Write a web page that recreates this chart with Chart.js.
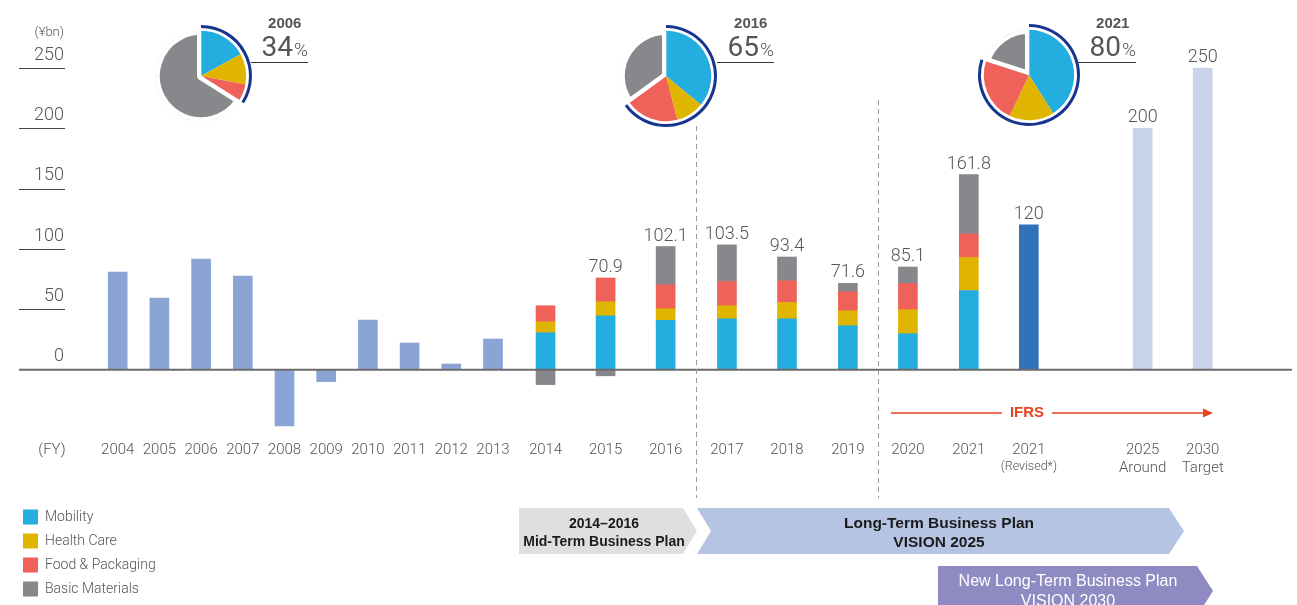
<!DOCTYPE html>
<html>
<head>
<meta charset="utf-8">
<script src="https://cdn.jsdelivr.net/npm/chart.js@4.4.1/dist/chart.umd.min.js"></script>
<style>
  body { margin: 0; background: #fff; }
  #wrap { position: relative; width: 1297px; height: 605px; overflow: hidden; }
  #wrap canvas { position: absolute; }
</style>
</head>
<body>
<div id="wrap">
  <canvas id="main" width="1297" height="605" style="left:0;top:0"></canvas>
  <canvas id="pie0" width="120" height="120"></canvas>
  <canvas id="pie1" width="120" height="120"></canvas>
  <canvas id="pie2" width="120" height="120"></canvas>
</div>
<script>
// --- data (¥bn) ---
const years = ['2004','2005','2006','2007','2008','2009','2010','2011','2012','2013',
  '2014','2015','2016','2017','2018','2019','2020','2021','2021','2025','2030'];
const subLabels = ['','','','','','','','','','','','','','','','','','','(Revised*)','Around','Target'];

const companyTotal = [80.9, 59.3, 91.6, 77.6, -46.6, -9.9, 41.1, 22.1, 4.7, 25.4,
  null, null, null, null, null, null, null, null, null, null, null];
const mobility = [null, null, null, null, null, null, null, null, null, null,
  30.6, 44.7, 40.8, 42.2, 42.2, 36.4, 29.8, 65.6, null, null, null];
const healthCare = [null, null, null, null, null, null, null, null, null, null,
  9.1, 11.6, 9.7, 10.8, 13.5, 12.4, 19.9, 27.4, null, null, null];
const foodPackaging = [null, null, null, null, null, null, null, null, null, null,
  13.3, 19.7, 19.9, 20.1, 18.0, 15.8, 21.8, 19.6, null, null, null];
const basicMaterials = [null, null, null, null, null, null, null, null, null, null,
  -12.4, -5.1, 31.7, 30.4, 19.7, 7.0, 13.6, 49.2, null, null, null];
const revised = [null, null, null, null, null, null, null, null, null, null,
  null, null, null, null, null, null, null, null, 120, null, null];
const targets = [null, null, null, null, null, null, null, null, null, null,
  null, null, null, null, null, null, null, null, null, 200, 250];
const totalLabels = [null, null, null, null, null, null, null, null, null, null,
  null, '70.9', '102.1', '103.5', '93.4', '71.6', '85.1', '161.8', '120', '200', '250'];
const yTicks = [0, 50, 100, 150, 200, 250];

// pie charts: share of the four businesses (Mobility, Health Care, Food & Packaging, Basic Materials)
const pieYears = ['2006', '2016', '2021'];
const pieShare = [34, 65, 80];
const pie2006 = [17, 11, 6, 66];
const pie2016 = [36, 10, 19, 35];
const pie2021 = [41, 16, 23, 20];

// --- layout / style ---
const xSlot = [0, 1, 2, 3, 4, 5, 6, 7, 8, 9, 10.26, 11.70, 13.14, 14.61, 16.05, 17.51, 18.95, 20.41, 21.85, 24.58, 26.02];
const pieCenters = [[201, 76], [666, 76], [1029, 75]];
const FONT = "Roboto, 'Liberation Sans', sans-serif";
const BOLD = "'Liberation Sans', Arial, sans-serif";
const TXT = '#555';
const NAVY = '#17358f';
const C_MOB = '#24aee0', C_HC = '#e0b500', C_FOOD = '#ee625a', C_BASIC = '#86888c';
const C_OLD = '#8ba4d6', C_REV = '#3172bb', C_TGT = '#c8d2eb';

function pts(arr) {
  return arr.map((v, i) => v == null ? null : { x: xSlot[i], y: v }).filter(Boolean);
}

function poly(ctx, p, color) {
  ctx.beginPath();
  ctx.moveTo(p[0][0], p[0][1]);
  for (let k = 1; k < p.length; k++) ctx.lineTo(p[k][0], p[k][1]);
  ctx.closePath();
  ctx.fillStyle = color;
  ctx.fill();
}

const decor = {
  id: 'decor',
  afterDatasetsDraw(chart) {
    const ctx = chart.ctx;
    const xs = chart.scales.x, ys = chart.scales.y;
    ctx.save();

    // short tick lines under the y labels
    ctx.strokeStyle = '#444';
    ctx.lineWidth = 1;
    yTicks.forEach(v => {
      if (v === 0) return;
      const y = Math.round(ys.getPixelForValue(v)) + 0.5;
      ctx.beginPath(); ctx.moveTo(19, y); ctx.lineTo(65, y); ctx.stroke();
    });
    // zero line
    const y0 = ys.getPixelForValue(0);
    ctx.strokeStyle = '#6b6b6b';
    ctx.lineWidth = 2;
    ctx.beginPath(); ctx.moveTo(19, y0); ctx.lineTo(1292, y0); ctx.stroke();

    // dashed separators
    ctx.strokeStyle = '#9a9a9a';
    ctx.lineWidth = 1;
    ctx.setLineDash([5, 4]);
    [[(xSlot[12] + xSlot[13]) / 2, 126], [(xSlot[15] + xSlot[16]) / 2, 100]].forEach(([v, top]) => {
      const x = Math.round(xs.getPixelForValue(v)) + 0.5;
      ctx.beginPath(); ctx.moveTo(x, top); ctx.lineTo(x, 498); ctx.stroke();
    });
    ctx.setLineDash([]);

    // value labels
    const all = [companyTotal, mobility, healthCare, foodPackaging, basicMaterials, revised, targets];
    ctx.fillStyle = TXT;
    ctx.font = '300 18px ' + FONT;
    ctx.textAlign = 'center';
    ctx.textBaseline = 'alphabetic';
    totalLabels.forEach((lab, i) => {
      if (!lab) return;
      let pos = 0;
      all.forEach(s => { if (s[i] > 0) pos += s[i]; });
      ctx.fillText(lab, xs.getPixelForValue(xSlot[i]), ys.getPixelForValue(pos) - 6);
    });

    // unit captions
    ctx.font = '300 13px ' + FONT;
    ctx.textAlign = 'right';
    ctx.textBaseline = 'middle';
    ctx.fillText('(¥bn)', 64, 33);
    ctx.font = '300 15px ' + FONT;
    ctx.textAlign = 'center';
    ctx.fillText('(FY)', 52, 450);
    ctx.font = '300 12.5px ' + FONT;
    ctx.fillText(subLabels[18], xs.getPixelForValue(xSlot[18]), 467);

    // IFRS arrow
    const red = '#e8431f';
    ctx.strokeStyle = red; ctx.fillStyle = red; ctx.lineWidth = 1.5;
    ctx.beginPath(); ctx.moveTo(891, 413); ctx.lineTo(1002, 413);
    ctx.moveTo(1052, 413); ctx.lineTo(1205, 413); ctx.stroke();
    poly(ctx, [[1203, 408.5], [1213, 413], [1203, 417.5]], red);
    ctx.font = 'bold 15px ' + BOLD;
    ctx.fillText('IFRS', 1027, 413);

    // legend
    const legend = [['Mobility', C_MOB], ['Health Care', C_HC], ['Food & Packaging', C_FOOD], ['Basic Materials', C_BASIC]];
    ctx.textAlign = 'left';
    ctx.font = '300 14px ' + FONT;
    legend.forEach(([name, col], k) => {
      const cy = 517 + k * 24;
      ctx.fillStyle = col;
      ctx.fillRect(23, cy - 7.5, 15, 15);
      ctx.fillStyle = TXT;
      ctx.fillText(name, 45, cy);
    });

    // business plan arrows
    poly(ctx, [[519, 508], [683, 508], [697, 531], [683, 554], [519, 554]], '#dedfdf');
    poly(ctx, [[697, 508], [1169, 508], [1184, 531], [1169, 554], [697, 554], [711, 531]], '#b6c4e4');
    poly(ctx, [[938, 566], [1197, 566], [1213, 591], [1197, 616], [938, 616]], '#8f8ac2');
    ctx.textAlign = 'center';
    ctx.fillStyle = '#1b1b1b';
    ctx.font = 'bold 14px ' + BOLD;
    ctx.fillText('2014–2016', 604, 524);
    ctx.fillText('Mid-Term Business Plan', 604, 542);
    ctx.font = 'bold 15.5px ' + BOLD;
    ctx.fillText('Long-Term Business Plan', 939, 524);
    ctx.fillText('VISION 2025', 939, 543);
    ctx.fillStyle = '#fff';
    ctx.font = '16px ' + BOLD;
    ctx.fillText('New Long-Term Business Plan', 1068, 582);
    ctx.fillText('VISION 2030', 1068, 602);

    // pie captions
    const capRight = [308, 774, 1136];
    const lineStart = [251, 717, 1078];
    pieYears.forEach((yr, k) => {
      const r = capRight[k];
      ctx.fillStyle = TXT;
      ctx.font = '300 19px ' + FONT;
      ctx.textAlign = 'right';
      ctx.textBaseline = 'alphabetic';
      ctx.fillText('%', r, 56);
      const pw = ctx.measureText('%').width;
      ctx.font = '400 28px ' + FONT;
      ctx.fillText(String(pieShare[k]), r - pw - 1, 56);
      const nw = ctx.measureText(String(pieShare[k])).width;
      ctx.font = 'bold 15px ' + BOLD;
      ctx.textAlign = 'center';
      ctx.fillText(yr, r - (pw + nw + 1) / 2, 28);
      ctx.strokeStyle = '#333';
      ctx.lineWidth = 1;
      ctx.beginPath(); ctx.moveTo(lineStart[k], 62.5); ctx.lineTo(r, 62.5); ctx.stroke();
    });

    ctx.restore();
  }
};

new Chart(document.getElementById('main'), {
  type: 'bar',
  data: {
    datasets: [
      { label: 'Total', data: pts(companyTotal), backgroundColor: C_OLD },
      { label: 'Mobility', data: pts(mobility), backgroundColor: C_MOB },
      { label: 'Health Care', data: pts(healthCare), backgroundColor: C_HC },
      { label: 'Food & Packaging', data: pts(foodPackaging), backgroundColor: C_FOOD },
      { label: 'Basic Materials', data: pts(basicMaterials), backgroundColor: C_BASIC },
      { label: '2021 (Revised)', data: pts(revised), backgroundColor: C_REV },
      { label: 'Targets', data: pts(targets), backgroundColor: C_TGT }
    ]
  },
  options: {
    responsive: false,
    animation: false,
    events: [],
    layout: { padding: { left: 0, right: 7, top: 44, bottom: 129 } },
    datasets: { bar: { barThickness: 19, borderWidth: 0, stack: 's' } },
    scales: {
      x: {
        type: 'linear', stacked: true, offset: false, min: -1.24, max: 28.113,
        grid: { display: false, drawTicks: false, offset: false }, border: { display: false },
        afterBuildTicks: s => { s.ticks = xSlot.map(v => ({ value: v })); },
        afterFit: s => { s.height = 40; s.paddingLeft = 0; s.paddingRight = 0; },
        ticks: {
          autoSkip: false, maxRotation: 0, padding: 5, color: TXT,
          font: { family: FONT, size: 15, weight: '300' },
          callback: (v, i) => (subLabels[i] && i !== 18) ? [years[i], subLabels[i]] : years[i]
        }
      },
      y: {
        stacked: true, min: -55, max: 270,
        grid: { display: false, drawTicks: false }, border: { display: false },
        afterBuildTicks: s => { s.ticks = yTicks.map(v => ({ value: v })); },
        afterFit: s => { s.width = 66; s.paddingTop = 0; s.paddingBottom = 0; },
        ticks: { padding: 2, labelOffset: -13, color: TXT, font: { family: FONT, size: 18, weight: '300' } }
      }
    },
    plugins: { legend: { display: false }, tooltip: { enabled: false } }
  },
  plugins: [decor]
});

const pieValues = [pie2006, pie2016, pie2021];
pieValues.forEach((vals, k) => {
  const cv = document.getElementById('pie' + k);
  cv.style.left = (pieCenters[k][0] - 60) + 'px';
  cv.style.top = (pieCenters[k][1] - 60) + 'px';
  new Chart(cv, {
    type: 'pie',
    data: {
      datasets: [
        { data: [pieShare[k], 100 - pieShare[k]], backgroundColor: [NAVY, 'rgba(0,0,0,0)'], borderWidth: 0, weight: 3 },
        { data: [100], backgroundColor: 'rgba(0,0,0,0)', borderWidth: 0, weight: 2.5 },
        { data: vals, backgroundColor: [C_MOB, C_HC, C_FOOD, C_BASIC], borderColor: '#fff',
          borderWidth: [0, 0, 0, 4], borderAlign: 'inner', weight: 45.5 }
      ]
    },
    options: {
      responsive: false, animation: false, events: [], radius: 51,
      plugins: { legend: { display: false }, tooltip: { enabled: false } }
    }
  });
});
</script>
</body>
</html>
